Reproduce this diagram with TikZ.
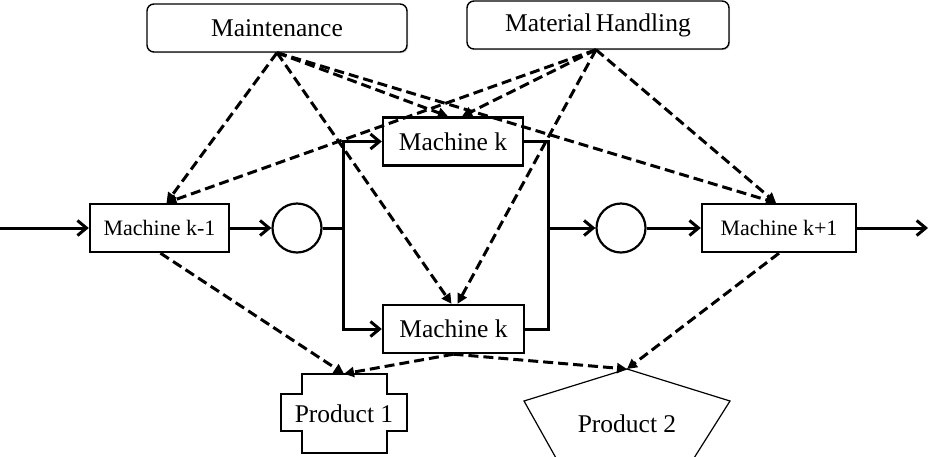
\documentclass[tikz,border=0pt]{standalone}
\usepackage{fontspec}
\setmainfont{Liberation Serif}
\usetikzlibrary{arrows.meta,shadows}

\tikzset{
  unit/.style={draw, line width=1.4pt, rounded corners=7pt, fill=white,
    minimum width=260pt, minimum height=48pt, inner sep=0pt,
    font=\fontsize{25.5}{30}\selectfont,
    drop shadow={opacity=0.35, shadow xshift=1.2pt, shadow yshift=-1.2pt}},
  machine/.style={draw, line width=2.4pt, fill=white, minimum height=48pt,
    inner sep=0pt, font=\fontsize{25.5}{30}\selectfont},
  smallmachine/.style={machine, font=\fontsize{22}{26}\selectfont},
  buffer/.style={draw, circle, line width=2.2pt, minimum size=49pt, inner sep=0pt},
  flow/.style={line width=3pt, -{Straight Barb[length=9pt,width=15pt]}},
  flowline/.style={line width=3pt},
  link/.style={line width=3pt, dash pattern=on 10pt off 5pt,
    -{Triangle[length=10pt,width=10pt]}},
  product/.style={line width=1.2pt, line join=miter},
  label/.style={inner sep=0pt, font=\fontsize{25.5}{30}\selectfont}
}

\begin{document}
\begin{tikzpicture}[x=1pt,y=-1pt]
\useasboundingbox (0,0) rectangle (928,456);

% support functions
\node[unit] (maint) at (277,28) {Maintenance};
\node[unit, minimum width=262pt] (mh) at (598,25) {Material\,Handling};

% production line
\node[smallmachine, minimum width=139pt] (mk1) at (159.5,228) {Machine k-1};
\node[buffer] (c1) at (297,228) {};
\node[machine, minimum width=140pt] (mku) at (453,141.5) {Machine k};
\node[machine, minimum width=141pt] (mkl) at (453.5,329) {Machine k};
\node[buffer] (c2) at (621,228) {};
\node[smallmachine, minimum width=154pt] (mk2) at (779,228) {Machine k+1};

\coordinate (in) at (0,228);
\coordinate (out) at (928,228);
\coordinate (jl) at (343,228);
\coordinate (jr) at (548,228);

% products
\draw[product] (302,374) -- (387,374) -- (387,394) -- (407,394) -- (407,431)
  -- (387,431) -- (387,453) -- (302,453) -- (302,431) -- (281,431)
  -- (281,394) -- (302,394) -- cycle;
\node[label, minimum width=126pt, minimum height=79pt] (p1) at (344,413.5) {Product 1};

\draw[product] (627,369) -- (730,401) -- (694,458) -- (556,458) -- (524,401) -- cycle;
\node[label] (p2) at (627,424) {Product 2};
\coordinate (p2top) at (627,369);

% material flow
\draw[flow] (in) -- (mk1.west);
\draw[flow] (mk1.east) -- (c1.west);
\draw[flowline] (c1.east) -- (jl);
\draw[flow] (jl) |- (mku.west);
\draw[flow] (jl) |- (mkl.west);
\draw[flowline] (mku.east) -| (jr);
\draw[flowline] (mkl.east) -| (jr);
\draw[flow] (jr) -- (c2.west);
\draw[flow] (c2.east) -- (mk2.west);
\draw[flow] (mk2.east) -- (out);

% maintenance links
\draw[link] (maint.south) -- ([xshift=7pt]mk1.north);
\draw[link] (maint.south) -- ([xshift=-5pt]mku.north);
\draw[link] (maint.south) -- ([xshift=-2pt]mkl.north);
\draw[link] (maint.south) -- ([xshift=-3pt]mk2.north);

% material handling links
\draw[link] ([xshift=-2pt]mh.south) -- ([xshift=7pt]mk1.north);
\draw[link] ([xshift=-2pt]mh.south) -- ([xshift=9pt]mku.north);
\draw[link] ([xshift=-2pt]mh.south) -- ([xshift=4pt]mkl.north);
\draw[link] ([xshift=-2pt]mh.south) -- ([xshift=-3pt]mk2.north);

% product links
\draw[link] ([xshift=1pt]mk1.south) -- (p1.north);
\draw[link] (mkl.south) -- (p1.north);
\draw[link] (mkl.south) -- (p2top);
\draw[link] (mk2.south) -- (p2top);
\end{tikzpicture}
\end{document}
